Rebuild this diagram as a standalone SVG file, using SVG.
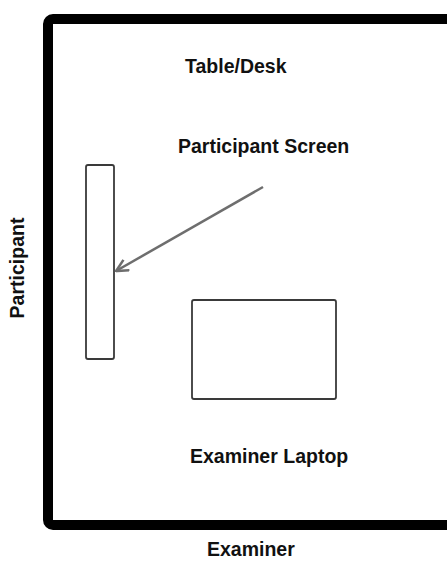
<svg xmlns="http://www.w3.org/2000/svg" width="447" height="561" viewBox="0 0 447 561">
<style>
.lbl{font-family:"Liberation Sans",Arial,sans-serif;font-weight:bold;font-size:19.5px;fill:#111}
.box{fill:#fff;stroke:#3a3a3a;stroke-width:1.8}
</style>
<defs>
<marker id="ah" markerWidth="14" markerHeight="14" refX="13" refY="7" orient="auto" markerUnits="userSpaceOnUse">
<path d="M1,1 L13,7 L1,13" fill="none" stroke="#6e6e6e" stroke-width="2.5" stroke-linejoin="miter"/>
</marker>
</defs>
<rect width="447" height="561" fill="#fff"/>
<g id="table">
<rect x="48" y="19" width="420" height="506" rx="5" fill="#fff" stroke="#000" stroke-width="10"/>
<text class="lbl" x="185" y="73">Table/Desk</text>
</g>
<g id="participant-screen">
<rect class="box" x="86" y="165" width="28" height="194" rx="2"/>
<text class="lbl" x="178" y="153">Participant Screen</text>
</g>
<g id="examiner-laptop">
<rect class="box" x="192" y="300" width="144" height="99" rx="2"/>
<text class="lbl" x="190" y="463">Examiner Laptop</text>
</g>
<g id="participant">
<text class="lbl" transform="translate(24,268) rotate(-90)" text-anchor="middle">Participant</text>
</g>
<g id="examiner">
<text class="lbl" x="207" y="556">Examiner</text>
</g>
<g id="connectors">
<line x1="263" y1="187" x2="116" y2="271" stroke="#6e6e6e" stroke-width="2.5" marker-end="url(#ah)"/>
</g>
</svg>
